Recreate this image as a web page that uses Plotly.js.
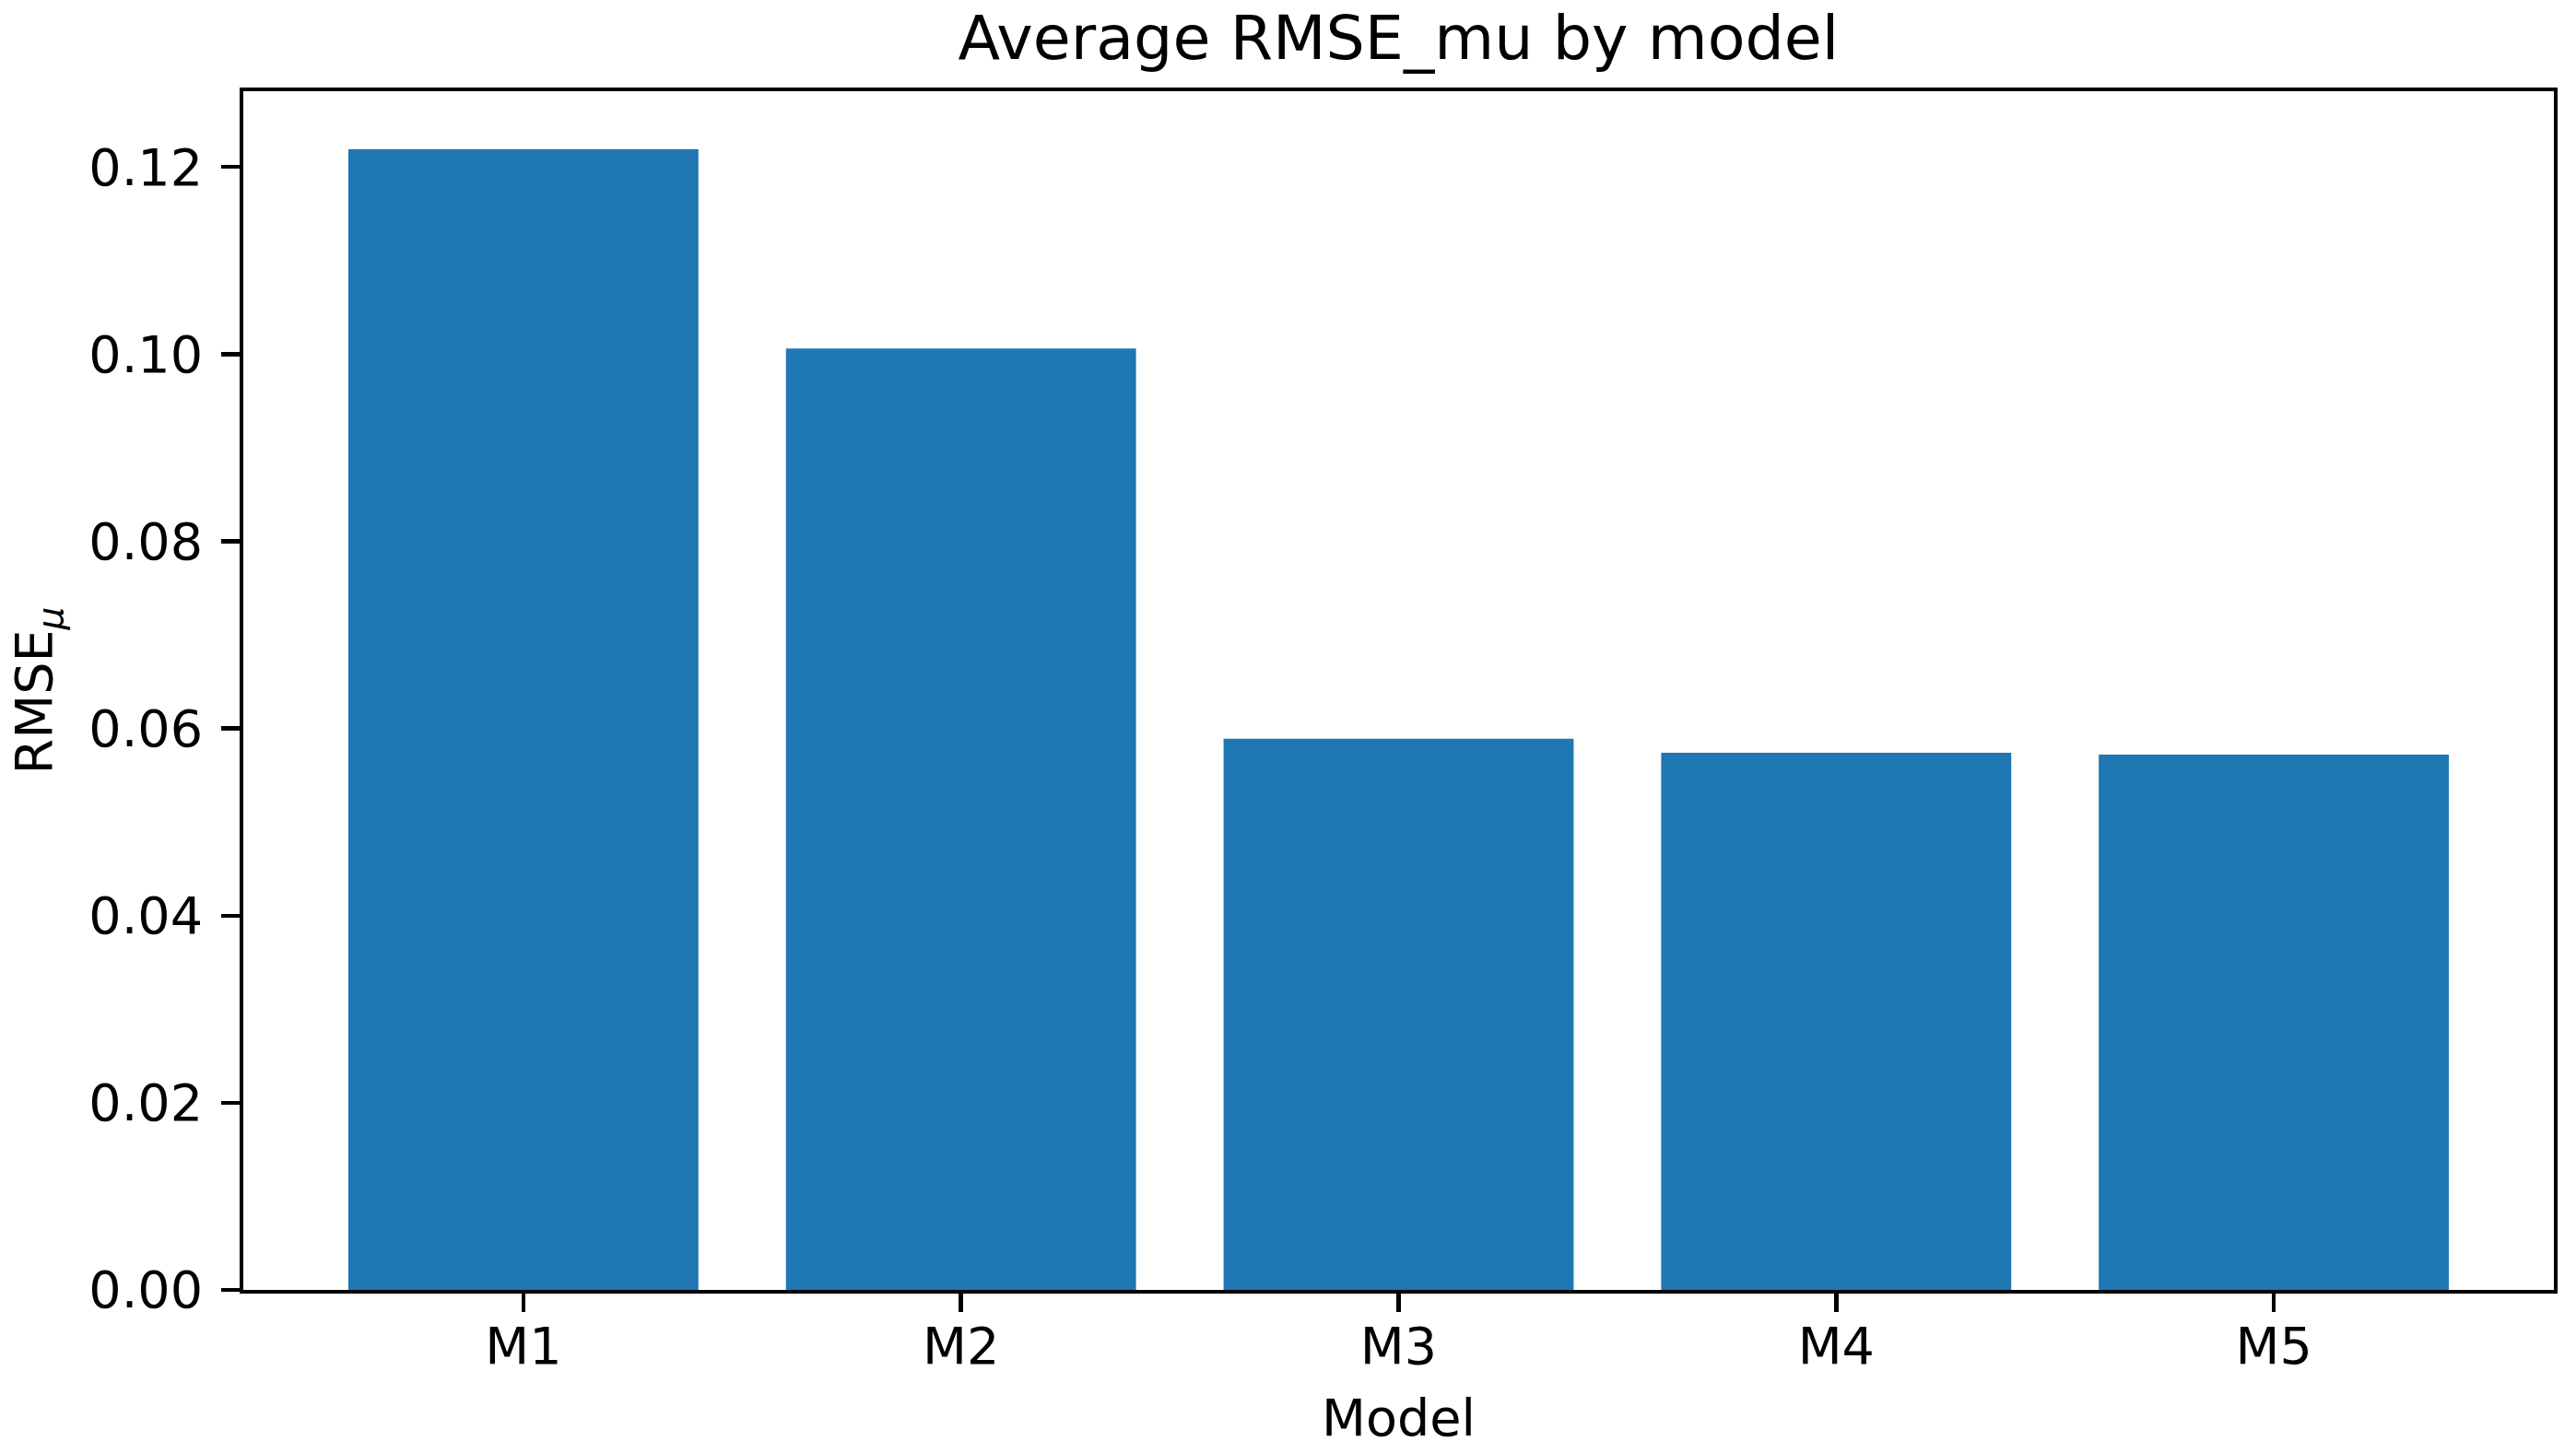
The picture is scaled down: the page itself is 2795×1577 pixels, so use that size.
<!DOCTYPE html>
<html>
<head>
<meta charset="utf-8">
<script src="https://cdn.plot.ly/plotly-3.0.1.min.js"></script>
<style>html,body{margin:0;padding:0;background:#fff;}</style>
</head>
<body>
<div id="chart" style="width:2795px;height:1577px;"></div>
<script>
const models = ["M1", "M2", "M3", "M4", "M5"];
const rmseMu = [0.1219, 0.1006, 0.0589, 0.0574, 0.0572];
const yTickVals = [0, 0.02, 0.04, 0.06, 0.08, 0.10, 0.12];
const yTickText = ["0.00", "0.02", "0.04", "0.06", "0.08", "0.10", "0.12"];
const xTitle = "Model";

const FONT = "DejaVu Sans, Liberation Sans, sans-serif";
const tickSize = 55.6;
const lw = 4.4;

const trace = {
  type: "bar",
  x: [0, 1, 2, 3, 4],
  y: rmseMu,
  width: 0.8,
  marker: {color: "#1f77b4", line: {width: 0}},
  hoverinfo: "none"
};

const plotH = 1577 - 99 - 177;

const layout = {
  width: 2795,
  height: 1577,
  margin: {l: 264, r: 24, t: 99, b: 177, pad: 0},
  paper_bgcolor: "#ffffff",
  plot_bgcolor: "#ffffff",
  showlegend: false,
  font: {family: FONT, color: "#000000", size: tickSize},
  title: {
    text: "Average RMSE_mu by model",
    font: {family: FONT, size: 66.7, color: "#000000"},
    x: 0.5, xref: "paper", xanchor: "center",
    y: 1, yref: "paper", yanchor: "bottom",
    pad: {b: 35}
  },
  xaxis: {
    range: [-0.64, 4.64],
    tickmode: "array",
    tickvals: [0, 1, 2, 3, 4],
    ticktext: models,
    ticks: "outside",
    ticklen: 19.4,
    tickwidth: lw,
    tickcolor: "#000",
    ticklabelstandoff: -11,
    showline: true, mirror: true, linecolor: "#000", linewidth: lw,
    showgrid: false, zeroline: false,
    tickfont: {family: FONT, size: tickSize, color: "#000"}
  },
  yaxis: {
    range: [0, 0.1281],
    tickmode: "array",
    tickvals: yTickVals,
    ticktext: yTickText,
    ticks: "outside",
    ticklen: 19.4,
    tickwidth: lw,
    tickcolor: "#000",
    ticklabelstandoff: 9,
    showline: true, mirror: true, linecolor: "#000", linewidth: lw,
    showgrid: false, zeroline: false,
    tickfont: {family: FONT, size: tickSize, color: "#000"},
    title: {text: "RMSE<sub><i>μ</i></sub>", font: {family: FONT, size: tickSize, color: "#000"}, standoff: 23}
  },
  annotations: [{
    text: xTitle,
    xref: "paper", yref: "paper",
    x: 0.5, y: -(1538 - 1400) / plotH,
    xanchor: "center", yanchor: "middle",
    showarrow: false,
    font: {family: FONT, size: tickSize, color: "#000"}
  }]
};

Plotly.newPlot("chart", [trace], layout, {staticPlot: true, displayModeBar: false});
</script>
</body>
</html>
